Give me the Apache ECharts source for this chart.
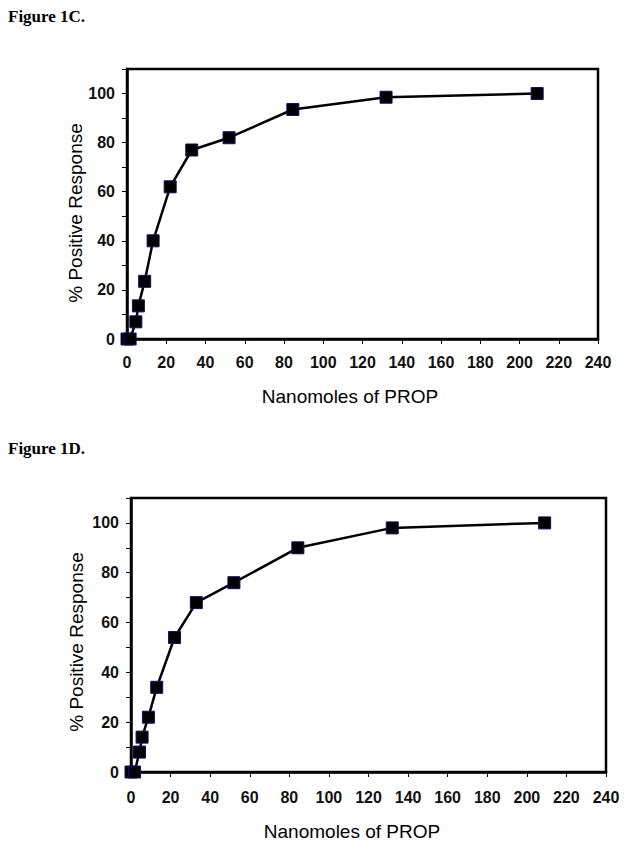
<!DOCTYPE html>
<html>
<head>
<meta charset="utf-8">
<script src="https://cdn.jsdelivr.net/npm/echarts@6/dist/echarts.min.js"></script>
<style>html,body{margin:0;padding:0;background:#fff;}#c{width:629px;height:847px;}</style>
</head>
<body>
<div id="c"></div>
<script>
// Figure 1C data
var prop1C = [0, 1.6, 4.5, 5.8, 9, 13.3, 22, 33, 52, 84.5, 132, 209];
var resp1C = [0, 0, 7, 13.5, 23.5, 40, 62, 77, 82, 93.5, 98.5, 100];
// Figure 1D data
var prop1D = [0, 1.8, 4.3, 5.6, 8.8, 13, 22, 33, 52, 84.3, 132, 209];
var resp1D = [0, 0, 8, 14, 22, 34, 54, 68, 76, 90, 98, 100];
var xTicks = [0, 20, 40, 60, 80, 100, 120, 140, 160, 180, 200, 220, 240];
var yTicks = [0, 20, 40, 60, 80, 100];
var figTitles = ['Figure 1C.', 'Figure 1D.'];
var xTitle = 'Nanomoles of PROP';
var yTitle = '% Positive Response';

function pairs(xs, ys) { return xs.map(function (x, i) { return [x, ys[i]]; }); }

var chart = echarts.init(document.getElementById('c'), null, {renderer: 'svg'});
var lbl = {fontFamily: 'Liberation Sans, Arial, sans-serif', fontWeight: 'bold', fontSize: 16, color: '#111'};

function xAxisCfg(gi, margin) {
  return {
    type: 'value', gridIndex: gi, min: xTicks[0], max: xTicks[xTicks.length - 1], interval: 20,
    axisLine: {show: true, lineStyle: {color: '#000', width: 2.5}},
    axisTick: {show: true, inside: false, length: 5, lineStyle: {color: '#000', width: 1}},
    axisLabel: Object.assign({margin: margin}, lbl),
    splitLine: {show: false}
  };
}
function yAxisCfg(gi) {
  return {
    type: 'value', gridIndex: gi, min: 0, max: 110, interval: 10,
    axisLine: {show: true, lineStyle: {color: '#000', width: 2.5}},
    axisTick: {show: true, inside: false, length: 5, lineStyle: {color: '#000', width: 1}},
    axisLabel: Object.assign({margin: 12, formatter: function (v) { return yTicks.indexOf(v) >= 0 ? String(v) : ''; }}, lbl),
    splitLine: {show: false}
  };
}
function seriesCfg(gi, data) {
  return {
    type: 'line', xAxisIndex: gi, yAxisIndex: gi, data: data,
    symbol: 'rect', symbolSize: 12,
    itemStyle: {color: '#000', borderColor: '#10106a', borderWidth: 1},
    lineStyle: {color: '#000', width: 2.5},
    animation: false, z: 3
  };
}
var tFont = 'bold 17px "Liberation Serif", "Times New Roman", serif';
var aFont = '19px "Liberation Sans", Arial, sans-serif';

chart.setOption({
  backgroundColor: '#fff',
  animation: false,
  grid: [
    {left: 127, top: 69, width: 471, height: 270, show: true, borderColor: '#000', borderWidth: 2.5, backgroundColor: 'transparent'},
    {left: 131, top: 498, width: 475, height: 274, show: true, borderColor: '#000', borderWidth: 2.5, backgroundColor: 'transparent'}
  ],
  xAxis: [xAxisCfg(0, 15), xAxisCfg(1, 17)],
  yAxis: [yAxisCfg(0), yAxisCfg(1)],
  series: [seriesCfg(0, pairs(prop1C, resp1C)), seriesCfg(1, pairs(prop1D, resp1D))],
  graphic: [
    {type: 'text', left: 8, top: 8, style: {text: figTitles[0], font: tFont, fill: '#000'}},
    {type: 'text', left: 8, top: 440, style: {text: figTitles[1], font: tFont, fill: '#000'}},
    {type: 'text', x: 350, y: 396, style: {text: xTitle, font: aFont, fill: '#000', textAlign: 'center', textVerticalAlign: 'middle'}},
    {type: 'text', x: 352, y: 831, style: {text: xTitle, font: aFont, fill: '#000', textAlign: 'center', textVerticalAlign: 'middle'}},
    {type: 'text', x: 75, y: 213, rotation: Math.PI / 2, style: {text: yTitle, font: aFont, fill: '#000', textAlign: 'center', textVerticalAlign: 'middle'}},
    {type: 'text', x: 76, y: 642, rotation: Math.PI / 2, style: {text: yTitle, font: aFont, fill: '#000', textAlign: 'center', textVerticalAlign: 'middle'}}
  ]
});
</script>
</body>
</html>
